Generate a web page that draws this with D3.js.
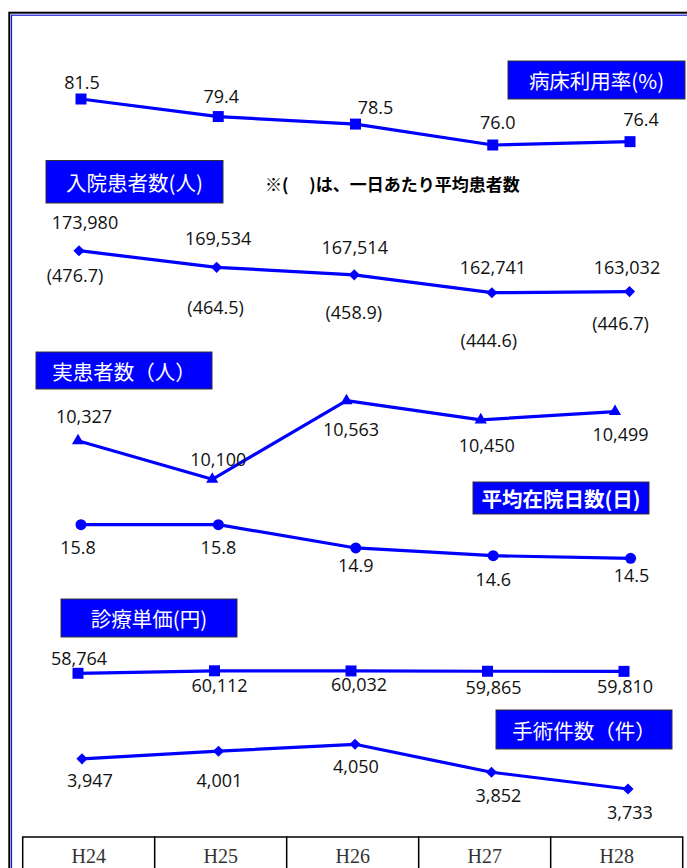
<!DOCTYPE html>
<html><head><meta charset="utf-8">
<script src="https://cdn.jsdelivr.net/npm/d3@7"></script>
<style>
html,body{margin:0;padding:0;background:#fff;}
svg{display:block;}
</style></head><body>
<svg id="chart" width="687" height="868"></svg>
<script>
// ---- data ----
const years = ["H24", "H25", "H26", "H27", "H28"];
const bedRate = [81.5, 79.4, 78.5, 76.0, 76.4];          // 病床利用率(%)
const inpatients = [173980, 169534, 167514, 162741, 163032]; // 入院患者数(人)
const dailyAvg = [476.7, 464.5, 458.9, 444.6, 446.7];     // 一日あたり平均患者数
const realPatients = [10327, 10100, 10563, 10450, 10499]; // 実患者数(人)
const avgStay = [15.8, 15.8, 14.9, 14.6, 14.5];           // 平均在院日数(日)
const unitPrice = [58764, 60112, 60032, 59865, 59810];    // 診療単価(円)
const surgeries = [3947, 4001, 4050, 3852, 3733];         // 手術件数(件)

const BLUE = "#0000ff";
const NUM_FONT = "'Open Sans', 'Noto Sans', sans-serif";
const JP_FONT = "'Noto Sans CJK JP', sans-serif";

const fmtInt = d3.format(",");
const fmt1 = d3.format(".1f");

// ---- layout of each mini chart ----
const panels = [
  { values: bedRate, fmt: fmt1, marker: "square", xr: [81, 630], yr: [145, 99],
    off: [[1, -17], [3, -21], [20, -17], [5, -23], [11, -23]],
    title: { text: "病床利用率(%)", box: [508, 61, 177, 38] } },
  { values: inpatients, fmt: fmtInt, marker: "diamond", xr: [79, 629.5], yr: [292.7, 250.7],
    off: [[6, -29], [1.5, -29.5], [0.5, -28], [1, -25.5], [-2.5, -24.5]],
    sub: { values: dailyAvg, fmt: v => "(" + fmt1(v) + ")",
           off: [[-4, 24.5], [-1, 40], [-0.5, 37.5], [-3, 47.5], [-9, 31]] },
    title: { text: "入院患者数(人)", box: [46, 160.5, 177, 42.5] } },
  { values: realPatients, fmt: fmtInt, marker: "triangle", xr: [78, 615], yr: [479.3, 400.7],
    off: [[6, -25], [6, -20], [4.5, 28.5], [6, 25.5], [5.5, 22.5]],
    title: { text: "実患者数（人）", box: [36, 352, 176, 37] } },
  { values: avgStay, fmt: fmt1, marker: "circle", xr: [81, 630.6], yr: [558.3, 524.7],
    off: [[-3, 22], [0, 22], [0, 17], [0, 23], [1, 17]],
    title: { text: "平均在院日数(日)", box: [473, 482, 176, 32], bold: true } },
  { values: unitPrice, fmt: fmtInt, marker: "square", xr: [78, 624], yr: [673.3, 670.8],
    off: [[1, -15], [5, 14], [8, 13], [6, 15.5], [1, 14.7]],
    title: { text: "診療単価(円)", box: [61, 599, 176, 38] } },
  { values: surgeries, fmt: fmtInt, marker: "diamond", xr: [82, 628], yr: [789, 744.3],
    off: [[8, 21], [1, 29], [1, 21.5], [7, 23], [2, 22.7]],
    title: { text: "手術件数（件）", box: [496, 710, 176, 39] } }
];

const svg = d3.select("#chart");

// outer double frame
svg.append("rect").attr("x", 9.3).attr("y", 12.7).attr("width", 720).attr("height", 900)
  .attr("fill", "none").attr("stroke", "#000").attr("stroke-width", 2);
svg.append("rect").attr("x", 11.5).attr("y", 15.2).attr("width", 720).attr("height", 900)
  .attr("fill", "none").attr("stroke", "#1a1ae0").attr("stroke-width", 1.2);

const symbolFor = {
  square: d3.symbol().type(d3.symbolSquare).size(121),
  diamond: d3.symbol().type(d3.symbolSquare).size(62),
  triangle: d3.symbol().type(d3.symbolTriangle).size(64),
  circle: d3.symbol().type(d3.symbolCircle).size(95)
};

panels.forEach(p => {
  const x = d3.scalePoint().domain(years).range(p.xr);
  const y = d3.scaleLinear().domain(d3.extent(p.values)).range(p.yr);
  const g = svg.append("g");

  // title box
  const [bx, by, bw, bh] = p.title.box;
  g.append("rect").attr("x", bx).attr("y", by).attr("width", bw).attr("height", bh)
    .attr("fill", BLUE).attr("stroke", "#333").attr("stroke-width", 1);
  g.append("text").attr("x", bx + bw / 2).attr("y", by + bh / 2)
    .attr("text-anchor", "middle").attr("dominant-baseline", "central")
    .attr("font-family", JP_FONT).attr("font-size", 20.5)
    .attr("font-weight", p.title.bold ? 700 : 400)
    .attr("fill", "#fff").text(p.title.text);

  // line
  const line = d3.line().x((d, i) => x(years[i])).y(d => y(d));
  g.append("path").datum(p.values).attr("d", line)
    .attr("fill", "none").attr("stroke", BLUE).attr("stroke-width", 3.2)
    .attr("stroke-linejoin", "round");

  // markers
  g.selectAll("path.mk").data(p.values).join("path").attr("class", "mk")
    .attr("d", symbolFor[p.marker])
    .attr("transform", (d, i) => `translate(${x(years[i])},${y(d)})` + (p.marker === "diamond" ? " rotate(45)" : ""))
    .attr("fill", BLUE);

  // value labels
  g.selectAll("text.lb").data(p.values).join("text").attr("class", "lb")
    .attr("x", (d, i) => x(years[i]) + p.off[i][0])
    .attr("y", (d, i) => y(d) + p.off[i][1])
    .attr("text-anchor", "middle").attr("dominant-baseline", "central")
    .attr("font-family", NUM_FONT).attr("font-size", 18).attr("fill", "#111")
    .text(d => p.fmt(d));

  if (p.sub) {
    g.selectAll("text.sb").data(p.sub.values).join("text").attr("class", "sb")
      .attr("x", (d, i) => x(years[i]) + p.sub.off[i][0])
      .attr("y", (d, i) => y(p.values[i]) + p.sub.off[i][1])
      .attr("text-anchor", "middle").attr("dominant-baseline", "central")
      .attr("font-family", NUM_FONT).attr("font-size", 18).attr("fill", "#111")
      .text(d => p.sub.fmt(d));
  }
});

// note beside the inpatient title
svg.append("text").attr("x", 265).attr("y", 183)
  .attr("dominant-baseline", "central")
  .attr("font-family", JP_FONT).attr("font-size", 17).attr("font-weight", 700)
  .attr("fill", "#000").attr("xml:space", "preserve").style("white-space", "pre")
  .text("※(　 )は、一日あたり平均患者数");

// year table at the bottom
const band = d3.scaleBand().domain(years).range([22.7, 682.7]);
const tbl = svg.append("g");
tbl.selectAll("rect").data(years).join("rect")
  .attr("x", d => band(d)).attr("y", 837)
  .attr("width", band.bandwidth()).attr("height", 60)
  .attr("fill", "#fff").attr("stroke", "#000").attr("stroke-width", 1.5);
tbl.selectAll("text").data(years).join("text")
  .attr("x", d => band(d) + band.bandwidth() / 2).attr("y", 856)
  .attr("text-anchor", "middle").attr("dominant-baseline", "central")
  .attr("font-family", "'Liberation Serif', serif").attr("font-size", 20)
  .attr("fill", "#333").text(d => d);
</script>
</body></html>
